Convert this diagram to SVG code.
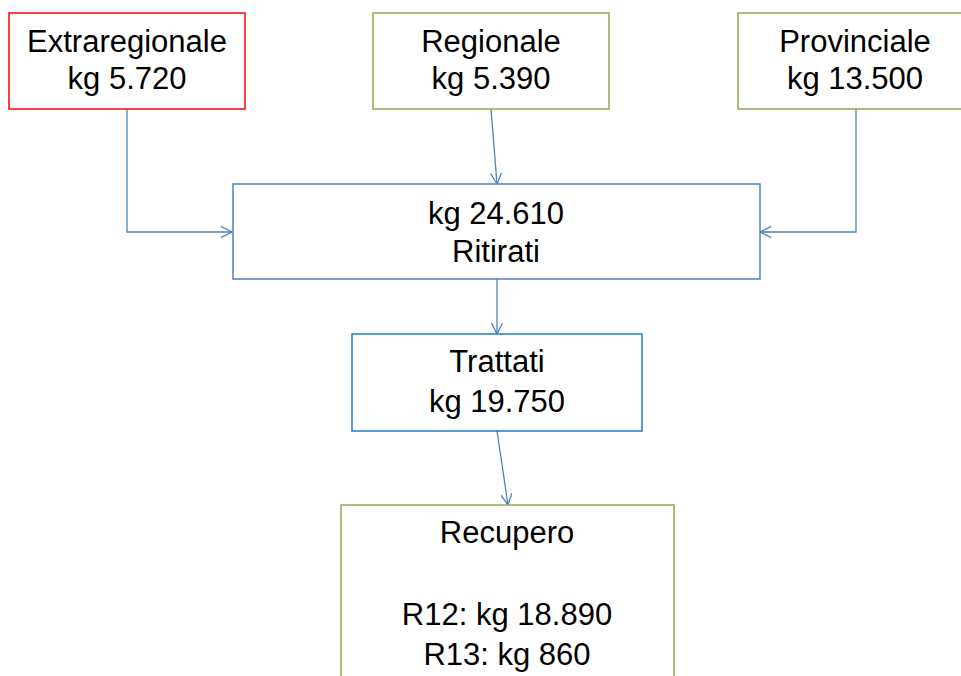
<svg xmlns="http://www.w3.org/2000/svg" width="961" height="676" viewBox="0 0 961 676">
<defs>
<style>
.box{fill:#fff;stroke-width:1.5}
.red{stroke:#FF0000}
.grn{stroke:#8EAA52}
.blu{stroke:#4F81BD}
.blu2{stroke:#1F7BD0}
.t{font-family:"Liberation Sans",Arial,sans-serif;font-size:31px;fill:#000;text-anchor:middle}
.c{fill:none;stroke:#4F81BD;stroke-width:1.3}
</style>
<marker id="ah" viewBox="0 0 12 12" refX="11" refY="6" markerWidth="12" markerHeight="12" markerUnits="userSpaceOnUse" orient="auto">
<path d="M0,0.5 L11,6 L0,11.5" fill="none" stroke="#4F81BD" stroke-width="1.3"/>
</marker>
</defs>
<rect width="961" height="676" fill="#fff"/>
<g id="connectors">
<polyline class="c" points="127,109 127,232 232,232" marker-end="url(#ah)"/>
<line class="c" x1="491" y1="109" x2="497" y2="184" marker-end="url(#ah)"/>
<polyline class="c" points="856,109 856,232 760,232" marker-end="url(#ah)"/>
<line class="c" x1="497" y1="279" x2="497" y2="334" marker-end="url(#ah)"/>
<line class="c" x1="497" y1="431" x2="508" y2="505" marker-end="url(#ah)"/>
</g>
<g id="extraregionale">
<rect class="box red" x="9" y="13" width="236" height="96"/>
<text class="t" x="127" y="52">Extraregionale</text>
<text class="t" x="127" y="89">kg 5.720</text>
</g>
<g id="regionale">
<rect class="box grn" x="373" y="13" width="236" height="96"/>
<text class="t" x="491" y="52">Regionale</text>
<text class="t" x="491" y="89">kg 5.390</text>
</g>
<g id="provinciale">
<rect class="box grn" x="738" y="13" width="236" height="96"/>
<text class="t" x="855" y="52">Provinciale</text>
<text class="t" x="855" y="89">kg 13.500</text>
</g>
<g id="ritirati">
<rect class="box blu" x="233" y="184" width="527" height="95"/>
<text class="t" x="496" y="224">kg 24.610</text>
<text class="t" x="496" y="262">Ritirati</text>
</g>
<g id="trattati">
<rect class="box blu2" x="352" y="334" width="290" height="97"/>
<text class="t" x="497" y="372">Trattati</text>
<text class="t" x="497" y="412">kg 19.750</text>
</g>
<g id="recupero">
<rect class="box grn" x="341" y="505" width="333" height="200"/>
<text class="t" x="507" y="543">Recupero</text>
<text class="t" x="507" y="625">R12: kg 18.890</text>
<text class="t" x="507" y="665">R13: kg 860</text>
</g>
</svg>
